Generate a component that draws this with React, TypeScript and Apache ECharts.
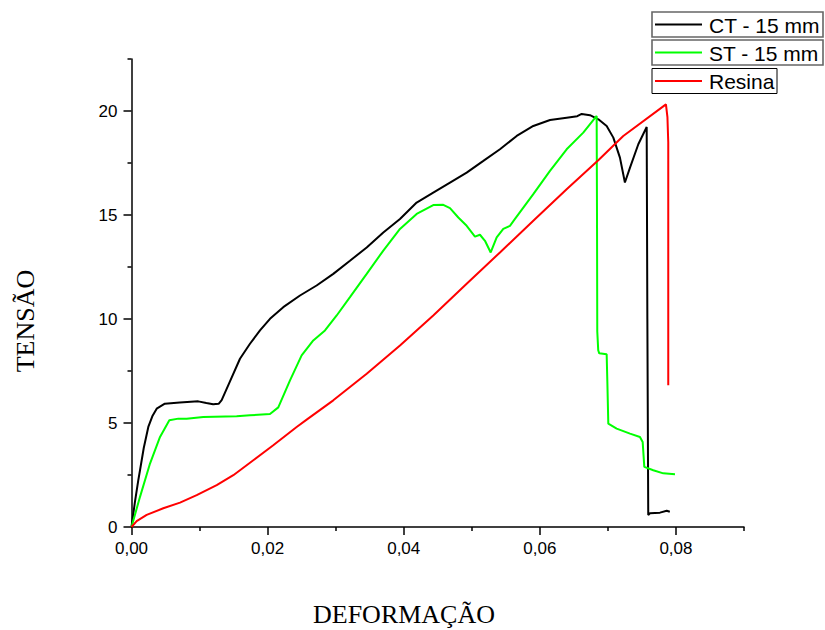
import React, { useEffect, useRef } from "react";
import * as echarts from "echarts";

const xMajorTicks = [0, 0.02, 0.04, 0.06, 0.08];
const xMinorTicks = [0.01, 0.03, 0.05, 0.07, 0.09];
const yMajorTicks = [0, 5, 10, 15, 20];
const yMinorTicks = [2.5, 7.5, 12.5, 17.5, 22.5];

const seriesNames = ["CT - 15 mm", "ST - 15 mm", "Resina"];
const seriesColors = ["#000000", "#00ff00", "#ff0000"];

const ctData: [number, number][] = [
  [0, 0], [0.0005, 1.2], [0.001, 2.25], [0.00125, 2.73], [0.0018, 3.8], [0.00247, 4.81],
  [0.0031, 5.35], [0.0037, 5.69], [0.0049, 5.93], [0.0071, 5.98], [0.0098, 6.04],
  [0.011, 5.96], [0.012, 5.9], [0.0128, 5.92], [0.01325, 6.1], [0.01447, 7.0],
  [0.01594, 8.09], [0.01741, 8.81], [0.01888, 9.45], [0.02035, 10.01], [0.0223, 10.57],
  [0.02476, 11.13], [0.0272, 11.61], [0.02965, 12.17], [0.0321, 12.8], [0.03456, 13.44],
  [0.037, 14.16], [0.03945, 14.81], [0.0419, 15.6], [0.04434, 16.08], [0.0468, 16.56],
  [0.04925, 17.04], [0.0517, 17.6], [0.05414, 18.16], [0.0566, 18.8], [0.05904, 19.28],
  [0.0615, 19.57], [0.06394, 19.68], [0.0655, 19.75], [0.06615, 19.86], [0.06737, 19.8],
  [0.0686, 19.6], [0.06982, 19.28], [0.0708, 18.72], [0.07177, 17.76], [0.0725, 16.56],
  [0.07325, 17.28], [0.07447, 18.4], [0.0757, 19.23], [0.0758, 10], [0.07593, 0.58],
  [0.07618, 0.66], [0.07765, 0.69], [0.07864, 0.78], [0.0791, 0.73],
];

const stData: [number, number][] = [
  [0, 0], [0.00125, 1.45], [0.00272, 3.05], [0.00419, 4.33], [0.00556, 5.13], [0.00688, 5.21],
  [0.0081, 5.21], [0.01055, 5.29], [0.01545, 5.32], [0.01741, 5.37], [0.02035, 5.43],
  [0.02157, 5.75], [0.02329, 7.05], [0.025, 8.25], [0.02671, 8.97], [0.02843, 9.45],
  [0.03015, 10.17], [0.0321, 11.05], [0.03456, 12.17], [0.037, 13.29], [0.03945, 14.33],
  [0.0419, 15.05], [0.04434, 15.48], [0.04581, 15.49], [0.0468, 15.33], [0.04802, 14.88],
  [0.04925, 14.48], [0.05047, 13.96], [0.0512, 14.05], [0.05194, 13.76], [0.05278, 13.2],
  [0.05366, 13.92], [0.05463, 14.33], [0.05561, 14.48], [0.05635, 14.81], [0.05904, 16.0],
  [0.06149, 17.12], [0.06394, 18.16], [0.06638, 18.96], [0.06835, 19.76], [0.0684, 15.0],
  [0.06844, 9.4], [0.06858, 8.5], [0.06873, 8.35], [0.06982, 8.3], [0.06992, 7.0],
  [0.07006, 4.97], [0.07129, 4.73], [0.07325, 4.49], [0.07471, 4.33], [0.07511, 4.09],
  [0.07535, 2.89], [0.07667, 2.73], [0.07814, 2.58], [0.07986, 2.54],
];

const resinaData: [number, number][] = [
  [0, 0], [0.00076, 0.28], [0.00223, 0.58], [0.00467, 0.9], [0.00713, 1.17], [0.00958, 1.53],
  [0.01252, 2.01], [0.01496, 2.49], [0.0179, 3.21], [0.02083, 3.93], [0.02427, 4.81],
  [0.02574, 5.16], [0.02965, 6.09], [0.03456, 7.37], [0.03945, 8.73], [0.04434, 10.17],
  [0.04925, 11.69], [0.05414, 13.2], [0.05904, 14.72], [0.06394, 16.24], [0.06859, 17.63],
  [0.07226, 18.8], [0.07853, 20.32], [0.07875, 19.7], [0.07887, 18.5], [0.07887, 6.81],
];

const X_MIN = 0;
const X_MAX = 0.09;
const Y_MIN = 0;
const Y_MAX = 22.5;

const LABEL_FONT = "Liberation Sans, Arial, sans-serif";
const NAME_FONT = "Liberation Serif, Times New Roman, serif";

export default function App() {
  const ref = useRef<HTMLDivElement>(null);

  useEffect(() => {
    if (!ref.current) return;
    const chart = echarts.init(ref.current, undefined, { renderer: "svg" });
    const allData = [ctData, stData, resinaData];

    const legendBoxes = [
      { y: 12, w: 171, stroke: "#666666", lw: 1.6 },
      { y: 40, w: 171, stroke: "#666666", lw: 1.6 },
      { y: 68.5, w: 125, stroke: "#000000", lw: 1 },
    ];
    const legendGraphics: any[] = [];
    seriesNames.forEach((name, i) => {
      const b = legendBoxes[i];
      legendGraphics.push({
        type: "rect",
        shape: { x: 652, y: b.y, width: b.w, height: 25 },
        style: { fill: "#ffffff", stroke: b.stroke, lineWidth: b.lw },
        z: 100,
      });
      legendGraphics.push({
        type: "line",
        shape: { x1: 655, y1: b.y + 12.5, x2: 702, y2: b.y + 12.5 },
        style: { stroke: seriesColors[i], lineWidth: 2 },
        z: 101,
      });
      legendGraphics.push({
        type: "text",
        x: 709,
        y: b.y + 13,
        style: {
          text: name,
          font: `21px ${LABEL_FONT}`,
          fill: "#000000",
          textAlign: "left",
          textVerticalAlign: "middle",
        },
        z: 101,
      });
    });

    const fmtX = (v: number) => v.toFixed(2).replace(".", ",");

    chart.setOption({
      animation: false,
      backgroundColor: "#ffffff",
      grid: { left: 131.5, right: 81, top: 59, bottom: 103 },
      xAxis: [
        {
          type: "value",
          min: X_MIN,
          max: X_MAX,
          axisLine: { show: true, lineStyle: { color: "#000", width: 1.5 } },
          axisTick: { show: true, length: 8, lineStyle: { color: "#000", width: 1.5 }, customValues: xMajorTicks },
          axisLabel: {
            show: true,
            customValues: xMajorTicks,
            formatter: fmtX,
            color: "#000",
            fontSize: 17,
            fontFamily: LABEL_FONT,
            margin: 13,
          },
          splitLine: { show: false },
        },
        {
          type: "value",
          min: X_MIN,
          max: X_MAX,
          position: "bottom",
          axisLine: { show: false },
          axisTick: { show: true, length: 4, lineStyle: { color: "#000", width: 1.5 }, customValues: xMinorTicks },
          axisLabel: { show: false },
          splitLine: { show: false },
        },
      ],
      yAxis: [
        {
          type: "value",
          min: Y_MIN,
          max: Y_MAX,
          axisLine: { show: true, lineStyle: { color: "#000", width: 1.5 } },
          axisTick: { show: true, length: 8, lineStyle: { color: "#000", width: 1.5 }, customValues: yMajorTicks },
          axisLabel: {
            show: true,
            customValues: yMajorTicks,
            color: "#000",
            fontSize: 17,
            fontFamily: LABEL_FONT,
            margin: 14,
          },
          splitLine: { show: false },
        },
        {
          type: "value",
          min: Y_MIN,
          max: Y_MAX,
          position: "left",
          axisLine: { show: false },
          axisTick: { show: true, length: 4, lineStyle: { color: "#000", width: 1.5 }, customValues: yMinorTicks },
          axisLabel: { show: false },
          splitLine: { show: false },
        },
      ],
      series: seriesNames.map((name, i) => ({
        name,
        type: "line",
        xAxisIndex: 0,
        yAxisIndex: 0,
        data: allData[i],
        showSymbol: false,
        symbol: "none",
        smooth: false,
        lineStyle: { color: seriesColors[i], width: 2 },
        itemStyle: { color: seriesColors[i] },
        z: 2 + i,
      })),
      graphic: [
        {
          type: "text",
          x: 404,
          y: 614,
          style: {
            text: "DEFORMAÇÃO",
            font: `26px ${NAME_FONT}`,
            fill: "#000",
            textAlign: "center",
            textVerticalAlign: "middle",
          },
        },
        {
          type: "text",
          x: 25,
          y: 321,
          rotation: Math.PI / 2,
          style: {
            text: "TENSÃO",
            font: `26px ${NAME_FONT}`,
            fill: "#000",
            textAlign: "center",
            textVerticalAlign: "middle",
          },
        },
        ...legendGraphics,
      ],
    });

    return () => chart.dispose();
  }, []);

  return (
    <div
      ref={ref}
      style={{ position: "absolute", left: 0, top: 0, width: 825, height: 630 }}
    />
  );
}
